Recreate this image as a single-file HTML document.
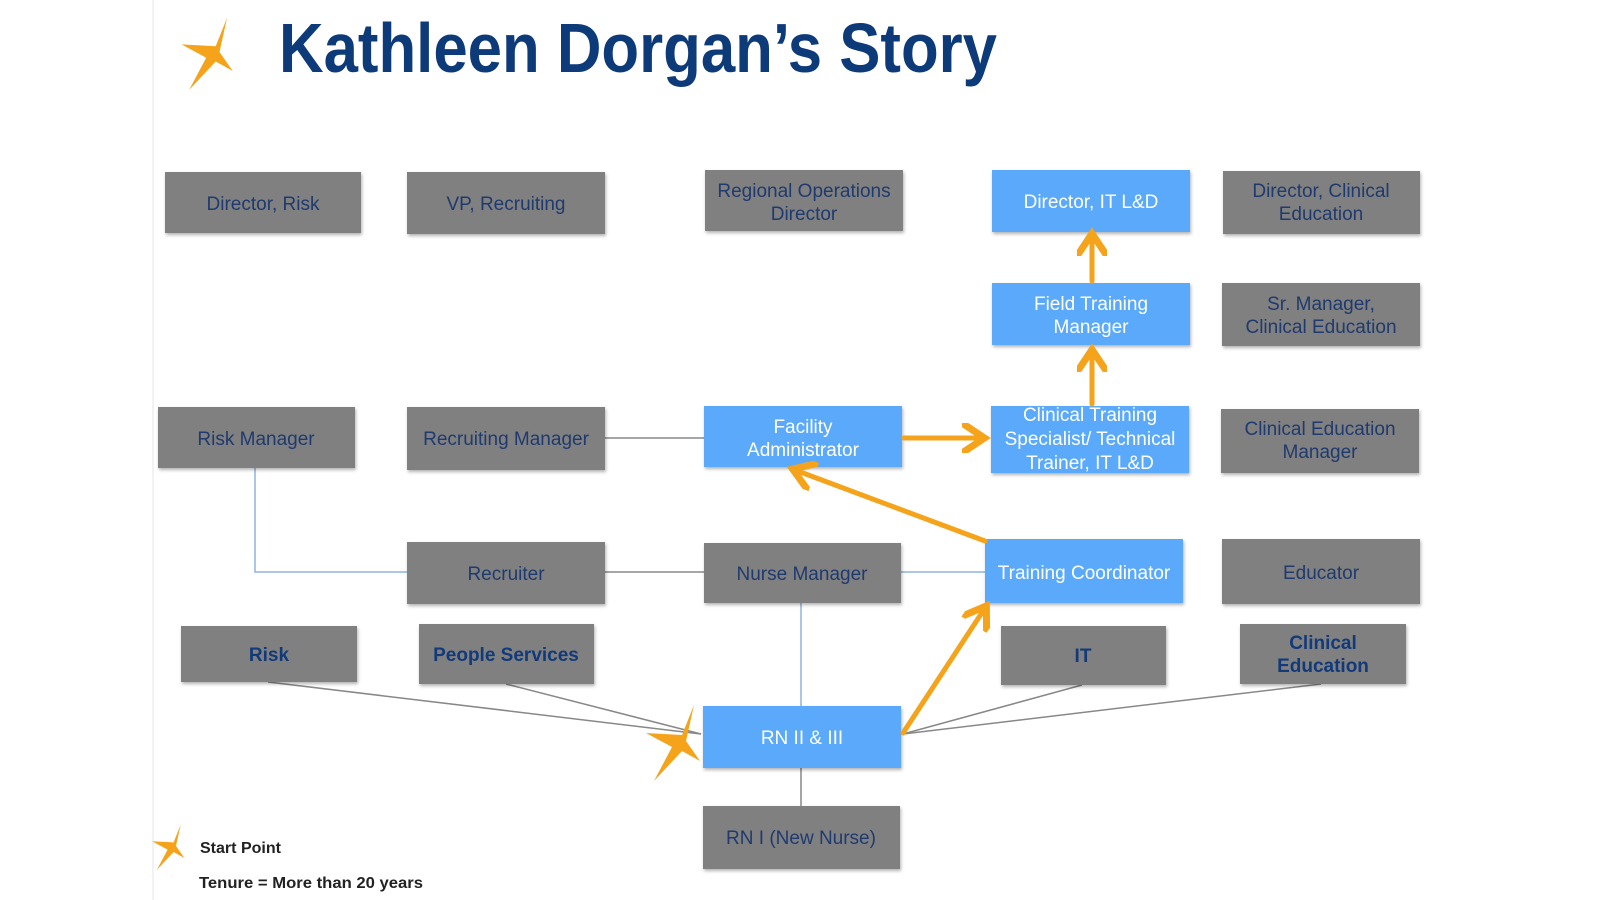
<!DOCTYPE html>
<html><head><meta charset="utf-8"><style>
html,body{margin:0;padding:0;background:#fff;width:1600px;height:900px;overflow:hidden}
svg{display:block}
.g{fill:#808080}
.b{fill:#5aa9fa}
.tg{fill:#1f3a6e;font-family:"Liberation Sans",sans-serif;font-size:19px;text-anchor:middle}
.tw{fill:#fff;font-family:"Liberation Sans",sans-serif;font-size:19px;text-anchor:middle}
.tb{fill:#123a7a;font-family:"Liberation Sans",sans-serif;font-size:19px;font-weight:bold;text-anchor:middle}
</style></head><body>
<svg width="1600" height="900" viewBox="0 0 1600 900" xmlns="http://www.w3.org/2000/svg">
<defs>
<filter id="sh" x="-5%" y="-5%" width="115%" height="125%"><feDropShadow dx="1" dy="2" stdDeviation="1.5" flood-color="#000" flood-opacity="0.3"/></filter>
<path id="star" d="M18,-36 L6,-6 L-30,-8 L-4,6 L-22,40 L6,10 L24,20 L10,0 Z" fill="#f5a31a"/>
<marker id="ah" markerWidth="6" markerHeight="6" refX="4" refY="3" orient="auto" markerUnits="strokeWidth"><path d="M0,0 L4.5,3 L0,6" fill="none" stroke="#f5a31a" stroke-width="1.4"/></marker>
</defs>
<line x1="153" y1="0" x2="153" y2="900" stroke="#f2f2f2" stroke-width="2"/>

<!-- Title -->
<use href="#star" transform="translate(210,52) scale(0.95)"/>
<text x="279" y="72" textLength="718" lengthAdjust="spacingAndGlyphs" font-family="Liberation Sans, sans-serif" font-weight="bold" font-size="70" fill="#0d3a78">Kathleen Dorgan’s Story</text>

<!-- connectors -->
<g stroke="#888" stroke-width="1.5" fill="none">
<line x1="605" y1="438" x2="704" y2="438"/>
<line x1="605" y1="572" x2="704" y2="572"/>
<line x1="801" y1="768" x2="801" y2="806"/>
<line x1="268" y1="682" x2="701" y2="734"/>
<line x1="506" y1="684" x2="701" y2="734"/>
<line x1="1082" y1="685" x2="903" y2="734"/>
<line x1="1321" y1="684" x2="903" y2="734"/>
</g>
<g stroke="#8fb3df" stroke-width="1.5" fill="none">
<polyline points="255,468 255,572 407,572"/>
<line x1="901" y1="572" x2="985" y2="572"/>
<line x1="801" y1="603" x2="801" y2="706"/>
</g>

<!-- boxes -->
<g filter="url(#sh)">
<rect class="g" x="165" y="172" width="196" height="61"/>
<rect class="g" x="407" y="172" width="198" height="62"/>
<rect class="g" x="705" y="170" width="198" height="61"/>
<rect class="b" x="992" y="170" width="198" height="62"/>
<rect class="g" x="1223" y="171" width="197" height="63"/>
<rect class="b" x="992" y="283" width="198" height="62"/>
<rect class="g" x="1222" y="283" width="198" height="63"/>
<rect class="g" x="158" y="407" width="197" height="61"/>
<rect class="g" x="407" y="407" width="198" height="63"/>
<rect class="b" x="704" y="406" width="198" height="61"/>
<rect class="b" x="991" y="406" width="198" height="67"/>
<rect class="g" x="1221" y="409" width="198" height="64"/>
<rect class="g" x="407" y="542" width="198" height="62"/>
<rect class="g" x="704" y="543" width="197" height="60"/>
<rect class="b" x="985" y="539" width="198" height="64"/>
<rect class="g" x="1222" y="539" width="198" height="65"/>
<rect class="g" x="181" y="626" width="176" height="56"/>
<rect class="g" x="419" y="624" width="175" height="60"/>
<rect class="g" x="1001" y="626" width="165" height="59"/>
<rect class="g" x="1240" y="624" width="166" height="60"/>
<rect class="b" x="703" y="706" width="198" height="62"/>
<rect class="g" x="703" y="806" width="197" height="63"/>
</g>

<!-- labels -->
<text class="tg" x="263" y="210">Director, Risk</text>
<text class="tg" x="506" y="210">VP, Recruiting</text>
<text class="tg" x="804" y="197">Regional Operations</text>
<text class="tg" x="804" y="220">Director</text>
<text class="tw" x="1091" y="208">Director, IT L&amp;D</text>
<text class="tg" x="1321" y="197">Director, Clinical</text>
<text class="tg" x="1321" y="220">Education</text>
<text class="tw" x="1091" y="310">Field Training</text>
<text class="tw" x="1091" y="333">Manager</text>
<text class="tg" x="1321" y="310">Sr. Manager,</text>
<text class="tg" x="1321" y="333">Clinical Education</text>
<text class="tg" x="256" y="445">Risk Manager</text>
<text class="tg" x="506" y="445">Recruiting Manager</text>
<text class="tw" x="803" y="433">Facility</text>
<text class="tw" x="803" y="456">Administrator</text>
<text class="tw" x="1090" y="421">Clinical Training</text>
<text class="tw" x="1090" y="445">Specialist/ Technical</text>
<text class="tw" x="1090" y="469">Trainer, IT L&amp;D</text>
<text class="tg" x="1320" y="435">Clinical Education</text>
<text class="tg" x="1320" y="458">Manager</text>
<text class="tg" x="506" y="580">Recruiter</text>
<text class="tg" x="802" y="580">Nurse Manager</text>
<text class="tw" x="1084" y="579">Training Coordinator</text>
<text class="tg" x="1321" y="579">Educator</text>
<text class="tb" x="269" y="661">Risk</text>
<text class="tb" x="506" y="661">People Services</text>
<text class="tb" x="1083" y="662">IT</text>
<text class="tb" x="1323" y="649">Clinical</text>
<text class="tb" x="1323" y="672">Education</text>
<text class="tw" x="802" y="744">RN II &amp; III</text>
<text class="tg" x="801" y="844">RN I (New Nurse)</text>

<!-- orange arrows -->
<g stroke="#f5a31a" stroke-width="5" fill="none" stroke-linecap="round">
<line x1="903" y1="733" x2="985" y2="608" marker-end="url(#ah)"/>
<line x1="985" y1="541" x2="795" y2="470" marker-end="url(#ah)"/>
<line x1="904" y1="438" x2="982" y2="438" marker-end="url(#ah)"/>
<line x1="1092" y1="404" x2="1092" y2="352" marker-end="url(#ah)"/>
<line x1="1092" y1="281" x2="1092" y2="236" marker-end="url(#ah)"/>
</g>

<use href="#star" transform="translate(676,741) scale(1.0)"/>
<use href="#star" transform="translate(170,846) scale(0.6)"/>
<text x="200" y="853" font-family="Liberation Sans, sans-serif" font-weight="bold" font-size="16" fill="#222" textLength="81" lengthAdjust="spacingAndGlyphs">Start Point</text>
<text x="199" y="888" font-family="Liberation Sans, sans-serif" font-weight="bold" font-size="16" fill="#222" textLength="224" lengthAdjust="spacingAndGlyphs">Tenure = More than 20 years</text>
</svg>
</body></html>
